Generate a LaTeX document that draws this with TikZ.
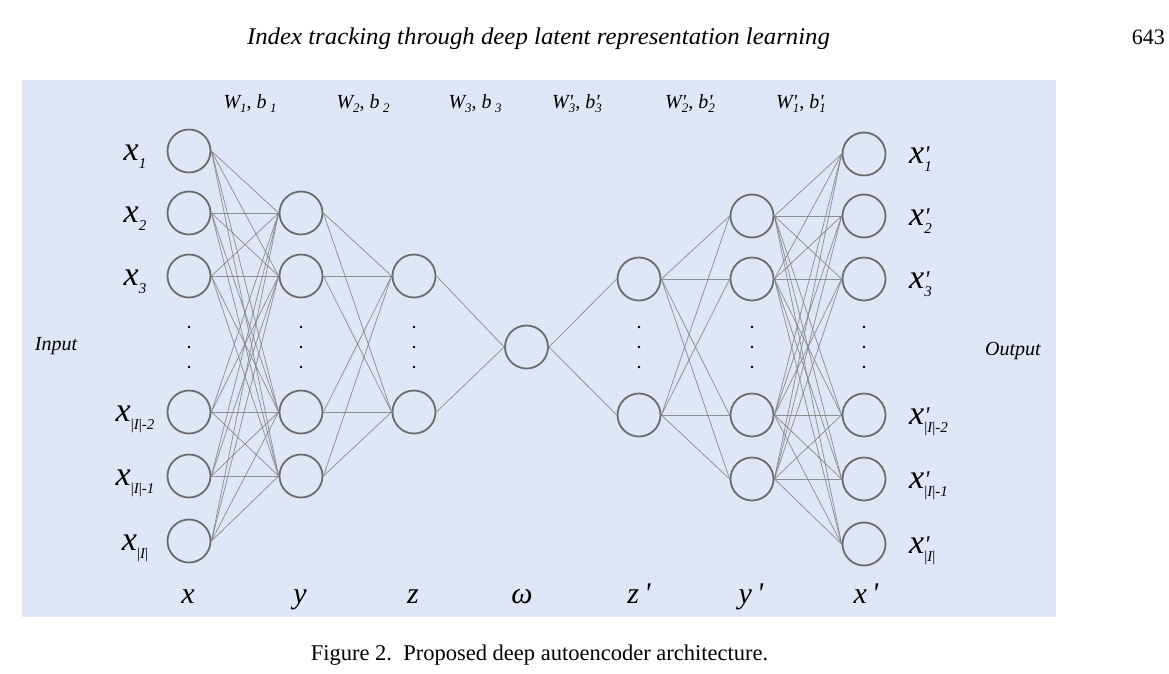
\documentclass[tikz,border=0pt]{standalone}
\usepackage{fontspec}
\setmainfont{Liberation Serif}
\usepackage{graphicx}
\definecolor{bgblue}{RGB}{223,230,246}
\definecolor{ring}{RGB}{108,108,108}
\definecolor{wirec}{RGB}{128,128,128}
\newcommand\sbx[1]{\raisebox{-8pt}{\fontsize{15}{15}\selectfont\itshape #1}}
\newcommand\xlab[1]{{\itshape x}\sbx{#1}}
\newcommand\xplab[1]{{\itshape x}\rlap{\raisebox{1pt}{\fontsize{24}{24}\selectfont\itshape\textquotesingle}}\sbx{#1}}
\newcommand\sbw[1]{\raisebox{-4pt}{\fontsize{13}{13}\selectfont\itshape #1}}
\newcommand\Wb[1]{{\itshape W}\sbw{#1}, {\itshape b}\,\sbw{#1}}
\newcommand\Wbp[1]{{\itshape W}\rlap{\itshape\textquotesingle}\sbw{#1}, {\itshape b}\rlap{\itshape\textquotesingle}\sbw{#1}}
\newcommand\II{{\upshape|}{\itshape I}{\upshape|}}
\begin{document}
\begin{tikzpicture}[x=1pt,y=-1pt,
  neuron/.style={circle,draw=ring,line width=1.8pt,fill=bgblue,minimum size=43pt,inner sep=0pt},
  wire/.style={draw=wirec,line width=0.75pt,opacity=0.85},
  biglab/.style={font=\fontsize{34}{38}\selectfont,anchor=base,inner sep=0pt},
  biglabr/.style={font=\fontsize{34}{38}\selectfont,anchor=base west,inner sep=0pt},
  toplab/.style={font=\fontsize{20}{24}\selectfont,anchor=base,inner sep=0pt},
  botlab/.style={font=\fontsize{30}{34}\selectfont\itshape,anchor=base,inner sep=0pt},
  sidelab/.style={font=\fontsize{20}{24}\selectfont\itshape,inner sep=0pt},
  vdot/.style={fill=black}]
\useasboundingbox (0,0) rectangle (1169,673);
\fill[bgblue] (22,80) rectangle (1056,617);

% header and caption
\node[anchor=base,inner sep=0pt] (title) at (538.5,44) {\resizebox{583pt}{\height}{\fontsize{24}{28}\selectfont\itshape Index tracking through deep latent representation learning}};
\node[anchor=base east,inner sep=0pt] (page) at (1165,44) {\fontsize{22}{26}\selectfont 643};
\node[anchor=base,inner sep=0pt] (cap) at (539.5,660) {\fontsize{22.5}{26}\selectfont Figure 2.\ \ Proposed deep autoencoder architecture.};

% layers
\foreach \i/\r in {1/151,2/213,3/276,4/412,5/476,6/541}
  \node[neuron] (x\i) at (189,\r) {};
\foreach \i/\r in {1/213,2/276,3/412,4/476}
  \node[neuron] (y\i) at (301,\r) {};
\foreach \i/\r in {1/276,2/412}
  \node[neuron] (z\i) at (414,\r) {};
\node[neuron] (w) at (526.5,347) {};
\foreach \i/\r in {1/279,2/415}
  \node[neuron] (zp\i) at (639,\r) {};
\foreach \i/\r in {1/216,2/279,3/415,4/479}
  \node[neuron] (yp\i) at (752,\r) {};
\foreach \i/\r in {1/154,2/216,3/279,4/415,5/479,6/544}
  \node[neuron] (xp\i) at (864,\r) {};

% dots
\foreach \c in {189,301,414,639,752,864}
  \foreach \d in {327,347,367}
    \fill[vdot] (\c,\d) circle (1.4pt);

% connections
\foreach \a in {1,...,6}
  \foreach \b in {1,...,4}
    \draw[wire] (x\a.east) -- (y\b.west);
\foreach \a in {1,...,4}
  \foreach \b in {1,2}
    \draw[wire] (y\a.east) -- (z\b.west);
\foreach \a in {1,2}
  \draw[wire] (z\a.east) -- (w.west);
\foreach \a in {1,2}
  \draw[wire] (w.east) -- (zp\a.west);
\foreach \a in {1,2}
  \foreach \b in {1,...,4}
    \draw[wire] (zp\a.east) -- (yp\b.west);
\foreach \a in {1,...,4}
  \foreach \b in {1,...,6}
    \draw[wire] (yp\a.east) -- (xp\b.west);

% input labels
\node[biglab] (lx1) at (135,160) {\xlab{1}};
\node[biglab] (lx2) at (135,222) {\xlab{2}};
\node[biglab] (lx3) at (135,285) {\xlab{3}};
\node[biglab] (lx4) at (135,421) {\xlab{\II-2}};
\node[biglab] (lx5) at (135,485) {\xlab{\II-1}};
\node[biglab] (lx6) at (135,550) {\xlab{\II}};

% output labels
\node[biglabr] (lxp1) at (909,163) {\xplab{1}};
\node[biglabr] (lxp2) at (909,225) {\xplab{2}};
\node[biglabr] (lxp3) at (909,288) {\xplab{3}};
\node[biglabr] (lxp4) at (909,424) {\xplab{\II-2}};
\node[biglabr] (lxp5) at (909,488) {\xplab{\II-1}};
\node[biglabr] (lxp6) at (909,553) {\xplab{\II}};

% weight labels
\node[toplab] (w1) at (250,108) {\Wb{1}};
\node[toplab] (w2) at (363,108) {\Wb{2}};
\node[toplab] (w3) at (475,108) {\Wb{3}};
\node[toplab] (wp3) at (577,108) {\Wbp{3}};
\node[toplab] (wp2) at (690,108) {\Wbp{2}};
\node[toplab] (wp1) at (801,108) {\Wbp{1}};

% bottom labels
\node[botlab] (bx) at (188,603) {x};
\node[botlab] (by) at (300,603) {y};
\node[botlab] (bz) at (413,603) {z};
\node[botlab] (bw) at (522,603) {ω};
\node[botlab] (bzp) at (639,603) {z\,\textquotesingle};
\node[botlab] (byp) at (751,603) {y\,\textquotesingle};
\node[botlab] (bxp) at (866,603) {x\,\textquotesingle};

% side labels
\node[sidelab] (inp) at (56,346) {Input};
\node[sidelab] (outp) at (1013,351) {Output};
\end{tikzpicture}
\end{document}
